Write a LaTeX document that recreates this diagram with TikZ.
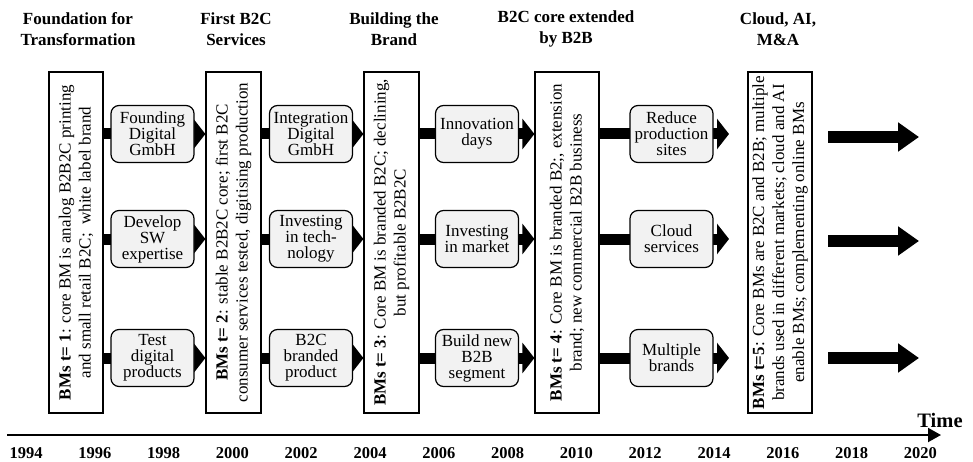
\documentclass[tikz,border=0pt]{standalone}
\usepackage{fontspec}
\setmainfont{Liberation Serif}
\usetikzlibrary{arrows.meta,backgrounds}
\definecolor{boxgray}{HTML}{F2F2F2}

\begin{document}
\begin{tikzpicture}[x=1pt,y=-1pt,
  phase/.style={draw, line width=1.2pt, fill=white, minimum width=#1,
    minimum height=341pt, inner sep=0pt},
  phasetext/.style={rotate=90, align=center, font=\fontsize{17}{20}\selectfont},
  action/.style={draw, line width=1.2pt, fill=boxgray, rounded corners=8pt,
    minimum width=83pt, minimum height=57pt, inner sep=1pt, align=center,
    font=\fontsize{17}{16}\selectfont},
  header/.style={align=center, font=\fontsize{17}{21}\selectfont\bfseries},
  flow/.style={line width=11pt, -{Triangle[length=12pt,width=30pt]}},
  outflow/.style={line width=12pt, -{Triangle[length=21pt,width=28pt]}},
  axis/.style={line width=2pt, -{Triangle[length=13pt,width=14pt]}},
  year/.style={anchor=base, font=\fontsize{16.5}{18}\selectfont\bfseries}]

\useasboundingbox (0,0) rectangle (973,462);

% phase headings
\node[header] (h1) at (78,29)  {Foundation for\\Transformation};
\node[header] (h2) at (236,29) {First B2C\\Services};
\node[header] (h3) at (394,29) {Building the\\Brand};
\node[header] (h4) at (566,29) {B2C core extended\\by B2B};
\node[header] (h5) at (778,29) {Cloud, AI,\\M\&A};

% business model boxes
\node[phase=54pt] (b1) at (76,242.5)    {};
\node[phase=55pt] (b2) at (233.5,242.5) {};
\node[phase=55pt] (b3) at (391.5,242.5) {};
\node[phase=64pt] (b4) at (567,242.5)   {};
\node[phase=64pt] (b5) at (780,242.5)   {};

\node[phasetext] (t1) at (b1) {\textbf{BMs t= 1}: core BM is analog B2B2C printing\\and small retail B2C; \ white label brand};
\node[phasetext] (t2) at (b2) {\textbf{BMs t= 2}: stable B2B2C core; first B2C\\consumer services tested, digitising production};
\node[phasetext] (t3) at (b3) {\textbf{BMs t= 3}: Core BM is branded B2C; declining,\\but profitable B2B2C};
\node[phasetext] (t4) at (b4) {\textbf{BMs t= 4}: Core BM is branded B2;, extension\\brand; new commercial B2B business};
\node[phasetext] (t5) at (b5) {\textbf{BMs t=5}: Core BMs are B2C and B2B; multiple\\brands used in different markets; cloud and AI\\enable BMs; complementing online BMs};

% activities
\node[action] (a1) at (152.5,134) {Founding\\Digital\\GmbH};
\node[action] (a2) at (152.5,239) {Develop\\SW\\expertise};
\node[action] (a3) at (152.5,358) {Test\\digital\\products};

\node[action] (c1) at (311,134) {Integration\\Digital\\GmbH};
\node[action] (c2) at (311,239) {Investing\\in tech-\\nology};
\node[action] (c3) at (311,358) {B2C\\branded\\product};

\node[action] (d1) at (477,134) {Innovation\\days};
\node[action] (d2) at (477,239) {Investing\\in market};
\node[action] (d3) at (477,358) {Build new\\B2B\\segment};

\node[action] (r1) at (671.5,134) {Reduce\\production\\sites};
\node[action] (r2) at (671.5,239) {Cloud\\services};
\node[action] (r3) at (671.5,358) {Multiple\\brands};

% free ends of the open arrows
\coordinate (r1end) at (729,134);
\coordinate (r2end) at (729,239);
\coordinate (r3end) at (729,358);
\coordinate (o1a) at (828,137);
\coordinate (o1b) at (919,137);
\coordinate (o2a) at (828,241);
\coordinate (o2b) at (919,241);
\coordinate (o3a) at (828,358);
\coordinate (o3b) at (919,358);

% connectors behind the activity boxes
\begin{scope}[on background layer]
  \foreach \n in {a1,a2,a3} \draw[flow] (b1.east |- \n.center) -- (b2.west |- \n.center);
  \foreach \n in {c1,c2,c3} \draw[flow] (b2.east |- \n.center) -- (b3.west |- \n.center);
  \foreach \n in {d1,d2,d3} \draw[flow] (b3.east |- \n.center) -- (b4.west |- \n.center);
  \draw[flow] (b4.east |- r1.center) -- (r1end);
  \draw[flow] (b4.east |- r2.center) -- (r2end);
  \draw[flow] (b4.east |- r3.center) -- (r3end);
\end{scope}

\draw[outflow] (o1a) -- (o1b);
\draw[outflow] (o2a) -- (o2b);
\draw[outflow] (o3a) -- (o3b);

% time axis
\coordinate (ax0) at (7,435);
\coordinate (ax1) at (941,435);
\draw[axis] (ax0) -- (ax1);
\node[anchor=base, font=\fontsize{20.5}{22}\selectfont\bfseries] (time) at (940,427) {Time};

\foreach \y [count=\i from 0] in {1994,1996,...,2020}
  \node[year] (y\y) at (26+68.8*\i,458) {\y};

\end{tikzpicture}
\end{document}
